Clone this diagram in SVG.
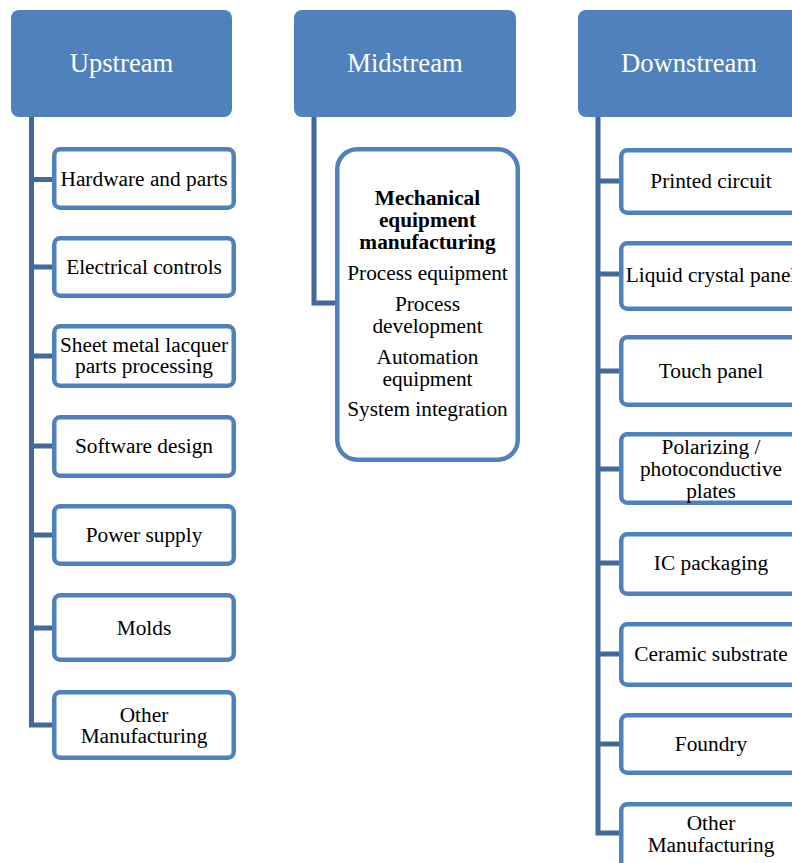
<svg xmlns="http://www.w3.org/2000/svg" width="792" height="863" viewBox="0 0 792 863">
<style>
.hdr{fill:#4F81BD}
.hdrt{font-size:26.67px;fill:#FFFFFF;text-anchor:middle}
.box{fill:#FFFFFF;stroke:#4F81BD;stroke-width:4.5}
.t{font-size:21.33px;fill:#000000;text-anchor:middle}
.b{font-weight:bold}
.con{fill:none;stroke:#41699B;stroke-width:5}
</style>
<rect width="792" height="863" fill="#FFFFFF"/>
<g id="connectors">
<path class="con" d="M31.5 117 V725 H54 M31.5 179.5 H54 M31.5 267 H54 M31.5 356 H54 M31.5 446 H54 M31.5 535 H54 M31.5 628 H54"/>
<path class="con" d="M314 117 V303 H337"/>
<path class="con" d="M598 117 V833 H621 M598 181 H621 M598 274 H621 M598 371 H621 M598 469 H621 M598 563 H621 M598 654 H621 M598 744 H621"/>
</g>
<g font-family="Liberation Serif, Times New Roman, DejaVu Serif, serif">
<g id="upstream">
<rect class="hdr" x="11" y="10" width="221" height="107" rx="8"/>
<text class="hdrt" x="121.5" y="72">Upstream</text>
</g>
<g id="midstream">
<rect class="hdr" x="294" y="10" width="222" height="107" rx="8"/>
<text class="hdrt" x="405" y="72">Midstream</text>
</g>
<g id="downstream">
<rect class="hdr" x="578" y="10" width="222" height="107" rx="8"/>
<text class="hdrt" x="689" y="72">Downstream</text>
</g>
<g id="u1"><rect class="box" x="54.25" y="149.25" width="179.5" height="58.5" rx="6"/><text class="t" x="144" y="186">Hardware and parts</text></g>
<g id="u2"><rect class="box" x="54.25" y="238.25" width="179.5" height="57.5" rx="6"/><text class="t" x="144" y="274">Electrical controls</text></g>
<g id="u3"><rect class="box" x="54.25" y="326.25" width="179.5" height="59.5" rx="6"/><text class="t" x="144" y="352">Sheet metal lacquer</text><text class="t" x="144" y="373">parts processing</text></g>
<g id="u4"><rect class="box" x="54.25" y="417.25" width="179.5" height="58.5" rx="6"/><text class="t" x="144" y="453">Software design</text></g>
<g id="u5"><rect class="box" x="54.25" y="506.25" width="179.5" height="57.5" rx="6"/><text class="t" x="144" y="542">Power supply</text></g>
<g id="u6"><rect class="box" x="54.25" y="595.25" width="179.5" height="64.5" rx="6"/><text class="t" x="144" y="635">Molds</text></g>
<g id="u7"><rect class="box" x="54.25" y="692.25" width="179.5" height="65.5" rx="6"/><text class="t" x="144" y="722">Other</text><text class="t" x="144" y="743">Manufacturing</text></g>
<g id="m1"><rect class="box" x="337.25" y="149.25" width="180.5" height="310.5" rx="20"/>
<text class="t b" x="427.5" y="205">Mechanical</text>
<text class="t b" x="427.5" y="227">equipment</text>
<text class="t b" x="427.5" y="249">manufacturing</text>
<text class="t" x="427.5" y="280">Process equipment</text>
<text class="t" x="427.5" y="311">Process</text>
<text class="t" x="427.5" y="333">development</text>
<text class="t" x="427.5" y="364">Automation</text>
<text class="t" x="427.5" y="386">equipment</text>
<text class="t" x="427.5" y="416">System integration</text>
</g>
<g id="d1"><rect class="box" x="621.25" y="150.25" width="180.5" height="62.5" rx="6"/><text class="t" x="711" y="188">Printed circuit</text></g>
<g id="d2"><rect class="box" x="621.25" y="243.25" width="180.5" height="65.5" rx="6"/><text class="t" x="711" y="282">Liquid crystal panel</text></g>
<g id="d3"><rect class="box" x="621.25" y="337.25" width="180.5" height="67.5" rx="6"/><text class="t" x="711" y="378">Touch panel</text></g>
<g id="d4"><rect class="box" x="621.25" y="434.25" width="180.5" height="68.5" rx="6"/><text class="t" x="711" y="454">Polarizing /</text><text class="t" x="711" y="476">photoconductive</text><text class="t" x="711" y="498">plates</text></g>
<g id="d5"><rect class="box" x="621.25" y="534.25" width="180.5" height="59.5" rx="6"/><text class="t" x="711" y="570">IC packaging</text></g>
<g id="d6"><rect class="box" x="621.25" y="624.25" width="180.5" height="60.5" rx="6"/><text class="t" x="711" y="661">Ceramic substrate</text></g>
<g id="d7"><rect class="box" x="621.25" y="715.25" width="180.5" height="57.5" rx="6"/><text class="t" x="711" y="751">Foundry</text></g>
<g id="d8"><rect class="box" x="621.25" y="804.25" width="180.5" height="64" rx="6"/><text class="t" x="711" y="830">Other</text><text class="t" x="711" y="852">Manufacturing</text></g>
</g>
</svg>
